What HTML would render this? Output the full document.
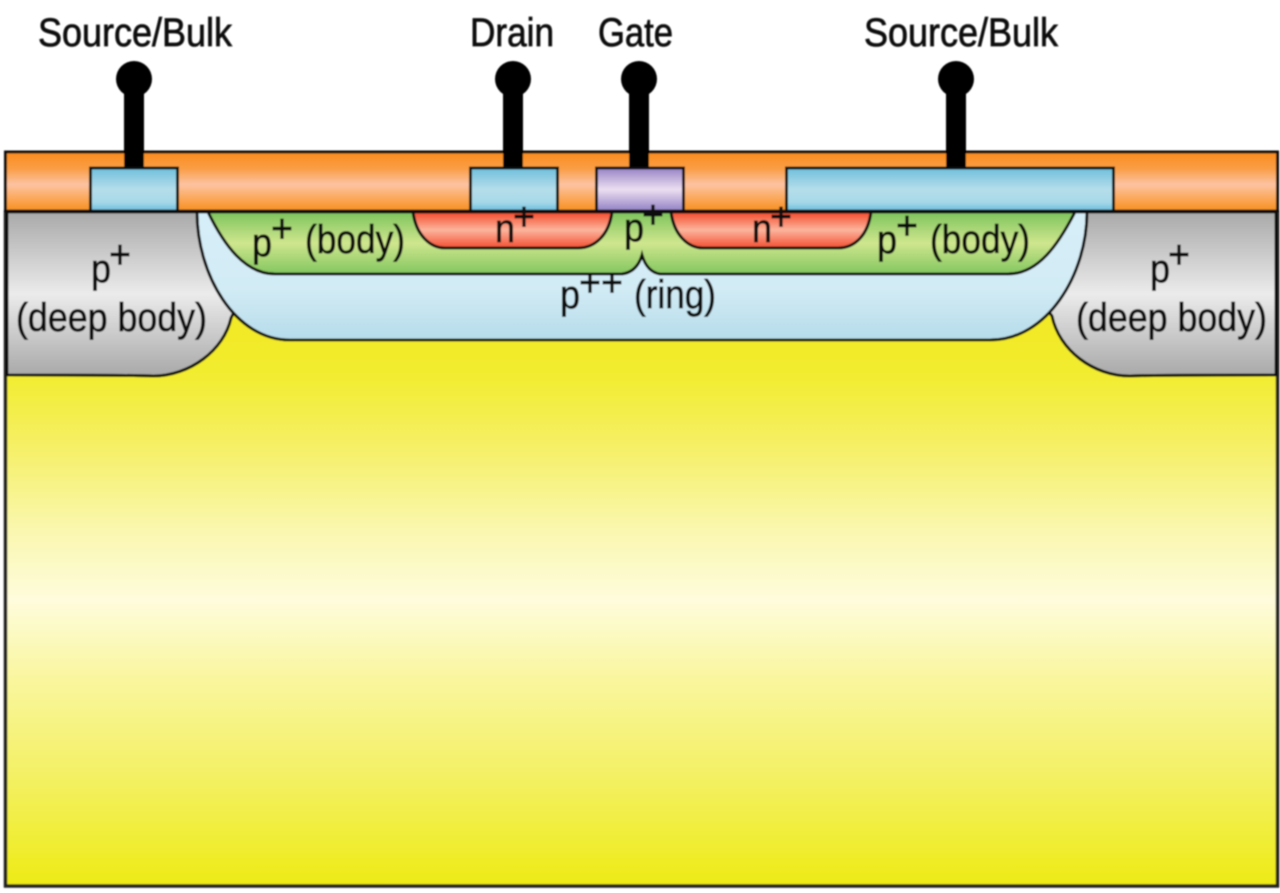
<!DOCTYPE html>
<html><head><meta charset="utf-8"><style>
html,body{margin:0;padding:0;background:#fff;width:1280px;height:893px;overflow:hidden}
svg{display:block}
text{font-family:"Liberation Sans",sans-serif;fill:#0c0c0c;stroke:#0c0c0c;stroke-width:0.7}
</style></head><body>
<svg width="1280" height="893" viewBox="0 0 1280 893" xmlns="http://www.w3.org/2000/svg">
<defs>
<filter id="b" x="-2%" y="-2%" width="104%" height="104%"><feGaussianBlur stdDeviation="0.9"/></filter>
<linearGradient id="yel" gradientUnits="userSpaceOnUse" x1="0" y1="340" x2="0" y2="886"><stop offset="0" stop-color="#f2ea28"/><stop offset="0.066" stop-color="#f2ec30"/><stop offset="0.2" stop-color="#f5f068"/><stop offset="0.35" stop-color="#faf7b0"/><stop offset="0.476" stop-color="#fefcdc"/><stop offset="0.62" stop-color="#f9f69e"/><stop offset="0.81" stop-color="#f3f060"/><stop offset="1" stop-color="#eeea14"/></linearGradient>
<linearGradient id="or" x1="0" y1="0" x2="0" y2="1"><stop offset="0" stop-color="#f98c1c"/><stop offset="0.28" stop-color="#fa9d45"/><stop offset="0.55" stop-color="#fcc3a2"/><stop offset="0.78" stop-color="#fba85c"/><stop offset="1" stop-color="#f78f20"/></linearGradient>
<linearGradient id="bl" x1="0" y1="0" x2="0" y2="1"><stop offset="0" stop-color="#6fbfdc"/><stop offset="0.5" stop-color="#b5deea"/><stop offset="0.8" stop-color="#a6d8e8"/><stop offset="1" stop-color="#67bcdc"/></linearGradient>
<linearGradient id="pu" x1="0" y1="0" x2="0" y2="1"><stop offset="0" stop-color="#9783c6"/><stop offset="0.5" stop-color="#ecdff0"/><stop offset="1" stop-color="#9180c4"/></linearGradient>
<linearGradient id="re" x1="0" y1="0" x2="0" y2="1"><stop offset="0" stop-color="#f4482a"/><stop offset="0.5" stop-color="#fbb49c"/><stop offset="1" stop-color="#f44e30"/></linearGradient>
<linearGradient id="gr" x1="0" y1="0" x2="0" y2="1"><stop offset="0" stop-color="#7cc35c"/><stop offset="0.5" stop-color="#cfe68e"/><stop offset="1" stop-color="#82c65e"/></linearGradient>
<linearGradient id="gy" x1="0" y1="0" x2="0" y2="1"><stop offset="0" stop-color="#a9a9a9"/><stop offset="0.5" stop-color="#ebebeb"/><stop offset="1" stop-color="#a8a8a8"/></linearGradient>
<linearGradient id="ri" x1="0" y1="0" x2="0" y2="1"><stop offset="0" stop-color="#d6eef8"/><stop offset="0.6" stop-color="#d2ebf5"/><stop offset="1" stop-color="#b5dcea"/></linearGradient>
</defs>
<g filter="url(#b)">
<rect x="5.5" y="212" width="1272" height="674" fill="url(#yel)" stroke="#222" stroke-width="3.5"/>
<rect x="5.5" y="152" width="1272" height="59" fill="url(#or)" stroke="#111" stroke-width="3"/>

<g fill="#000">
<rect x="124" y="80" width="20" height="88"/><circle cx="134" cy="79" r="18"/>
<rect x="503" y="80" width="20" height="88"/><circle cx="513" cy="79" r="18"/>
<rect x="629" y="80" width="20" height="88"/><circle cx="639" cy="79" r="18"/>
<rect x="946" y="80" width="20" height="88"/><circle cx="956" cy="79" r="18"/>
</g>

<g stroke="#111" stroke-width="3">
<path d="M7,212 L240,212 L240,300 L231,318 C224,350 190,376 153,376 Q130,375 7,375 Z" fill="url(#gy)"/>
<path d="M1040,212 L1276,212 L1276,375 Q1150,375 1130,376 C1093,376 1059,350 1052,316 L1040,300 Z" fill="url(#gy)"/>
<path d="M197,212 C197,275 235,340 290,340 L990,340 C1047,340 1087,275 1087,212 Z" fill="url(#ri)"/>
<path d="M208,212 C224,245 245,274 275,274 L622,274 Q637,272 642,255 Q647,272 660,274 L1008,274 C1038,274 1058,245 1075,212 Z" fill="url(#gr)"/>
<path d="M413,212 C416,235 430,248 445,248 L578,248 C595,248 609,235 612,212 Z" fill="url(#re)"/>
<path d="M671,212 C674,235 688,248 703,248 L838,248 C855,248 868,235 871,212 Z" fill="url(#re)"/>
<rect x="90.5" y="168" width="87" height="43" fill="url(#bl)"/>
<rect x="470.5" y="168" width="87" height="43" fill="url(#bl)"/>
<rect x="596.5" y="168" width="87" height="43" fill="url(#pu)"/>
<rect x="786.5" y="168" width="327" height="43" fill="url(#bl)"/>
</g>
<path d="M4,211 H1278" stroke="#111" stroke-width="3" fill="none"/>

<g font-size="40">
<text x="38" y="46" textLength="194" lengthAdjust="spacingAndGlyphs">Source/Bulk</text>
<text x="470" y="46" textLength="84" lengthAdjust="spacingAndGlyphs">Drain</text>
<text x="598" y="46" textLength="75" lengthAdjust="spacingAndGlyphs">Gate</text>
<text x="864" y="46" textLength="194" lengthAdjust="spacingAndGlyphs">Source/Bulk</text>

<text x="91" y="282" textLength="20" lengthAdjust="spacingAndGlyphs">p</text>
<text x="109" y="268" textLength="22" lengthAdjust="spacingAndGlyphs">+</text>
<text x="16" y="331" textLength="191" lengthAdjust="spacingAndGlyphs">(deep body)</text>
<text x="1150" y="282" textLength="20" lengthAdjust="spacingAndGlyphs">p</text>
<text x="1168" y="268" textLength="22" lengthAdjust="spacingAndGlyphs">+</text>
<text x="1076" y="331" textLength="191" lengthAdjust="spacingAndGlyphs">(deep body)</text>

<text x="252" y="256" textLength="20" lengthAdjust="spacingAndGlyphs">p</text>
<text x="271" y="242" textLength="22" lengthAdjust="spacingAndGlyphs">+</text>
<text x="305" y="253" textLength="100" lengthAdjust="spacingAndGlyphs">(body)</text>
<text x="877" y="253" textLength="20" lengthAdjust="spacingAndGlyphs">p</text>
<text x="896" y="239" textLength="22" lengthAdjust="spacingAndGlyphs">+</text>
<text x="930" y="253" textLength="100" lengthAdjust="spacingAndGlyphs">(body)</text>

<text x="495" y="242" textLength="20" lengthAdjust="spacingAndGlyphs">n</text>
<text x="513" y="230" textLength="22" lengthAdjust="spacingAndGlyphs">+</text>
<text x="752" y="242" textLength="20" lengthAdjust="spacingAndGlyphs">n</text>
<text x="770" y="230" textLength="22" lengthAdjust="spacingAndGlyphs">+</text>
<text x="624" y="241" textLength="20" lengthAdjust="spacingAndGlyphs">p</text>
<text x="642" y="228" textLength="22" lengthAdjust="spacingAndGlyphs">+</text>

<text x="560" y="308" textLength="20" lengthAdjust="spacingAndGlyphs">p</text>
<text x="579" y="296" textLength="44" lengthAdjust="spacingAndGlyphs">++</text>
<text x="634" y="308" textLength="82" lengthAdjust="spacingAndGlyphs">(ring)</text>
</g>
</g>
</svg>
</body></html>
